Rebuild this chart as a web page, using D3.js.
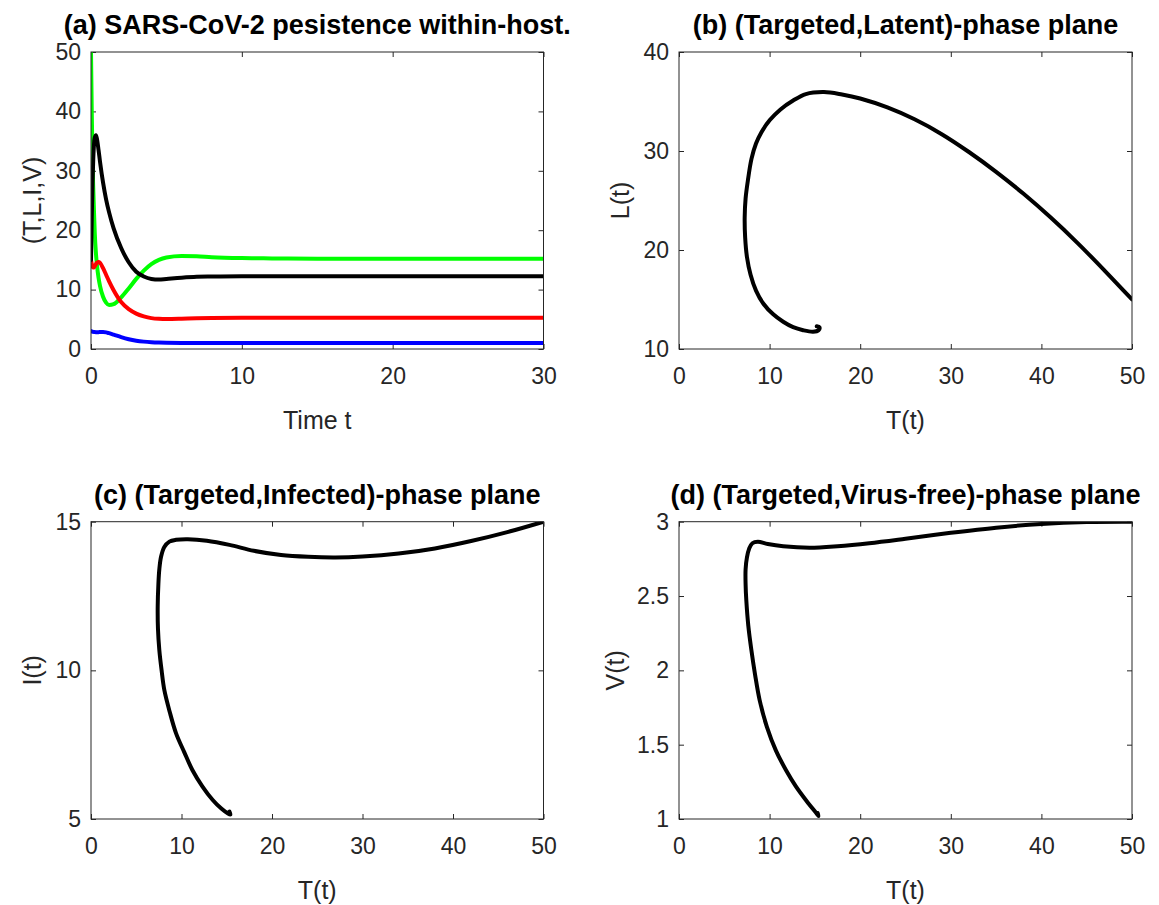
<!DOCTYPE html>
<html><head><meta charset="utf-8">
<script src="https://cdn.jsdelivr.net/npm/d3@7/dist/d3.min.js"></script>
<style>
body{margin:0;background:#fff}
text{font-family:"Liberation Sans",Arial,Helvetica,sans-serif}
</style>
</head><body>
<svg id="fig" width="1159" height="905"></svg>
<script>
// ---------- Data ----------
// Panel (a): time series
const timeT = [0, 0.05, 0.1, 0.15, 0.2, 0.25, 0.33, 0.4, 0.5, 0.6, 0.8, 1.0, 1.2, 1.5, 2, 2.5, 3, 3.5, 4, 4.5, 5, 6, 7, 8, 10, 12, 15, 20, 25, 30];
const seriesT = [50, 40, 32, 27, 23, 19.5, 16, 14, 12, 10.6, 8.8, 7.8, 7.4, 7.55, 8.7, 10.2, 11.8, 13.2, 14.3, 15.0, 15.4, 15.65, 15.6, 15.45, 15.3, 15.25, 15.2, 15.2, 15.2, 15.2];
const seriesL = [15, 22, 28, 32, 34.5, 35.6, 36, 35.3, 33.5, 31.5, 28, 25.2, 23, 20.3, 17, 14.6, 13.0, 12.2, 11.8, 11.7, 11.8, 12.0, 12.15, 12.2, 12.25, 12.25, 12.25, 12.25, 12.25, 12.25];
const seriesI = [15, 14.3, 13.9, 13.7, 13.75, 13.95, 14.3, 14.55, 14.65, 14.5, 13.6, 12.5, 11.4, 9.9, 7.9, 6.7, 5.96, 5.5, 5.2, 5.08, 5.05, 5.1, 5.18, 5.22, 5.25, 5.27, 5.28, 5.28, 5.28, 5.28];
const seriesV = [3.0, 2.95, 2.91, 2.88, 2.86, 2.845, 2.835, 2.835, 2.84, 2.85, 2.86, 2.80, 2.66, 2.42, 2.0, 1.65, 1.4, 1.24, 1.14, 1.08, 1.05, 1.03, 1.03, 1.03, 1.03, 1.03, 1.03, 1.03, 1.03, 1.03];

// Panel (b): (T, L) phase plane path
const phaseB_T = [50, 47, 44, 41, 38, 35, 32, 29, 26, 23, 20, 18, 16, 14, 12.6, 11.2, 10, 9.1, 8.5, 8.0, 7.6, 7.35, 7.25, 7.3, 7.5, 7.9, 8.5, 9.3, 10.4, 11.5, 12.6, 13.7, 14.8, 15.4, 15.5, 15.2];
const phaseB_L = [15, 17.9, 20.7, 23.3, 25.7, 27.9, 29.9, 31.7, 33.2, 34.4, 35.3, 35.7, 35.95, 35.75, 35.1, 34.2, 33.1, 31.9, 30.75, 29.2, 27.0, 25.2, 23.3, 21.3, 19.3, 17.5, 15.9, 14.6, 13.5, 12.75, 12.2, 11.9, 11.75, 11.9, 12.2, 12.3];

// Panel (c): (T, I) phase plane path
const phaseC_T = [50, 46, 42, 38, 34, 30, 27, 24, 21, 18, 15.3, 12.8, 10.7, 9.4, 8.66, 8.1, 7.74, 7.55, 7.45, 7.37, 7.4, 7.55, 7.8, 8.1, 8.7, 9.4, 10.3, 11.2, 12.3, 13.45, 14.4, 15.1, 15.4, 15.3];
const phaseC_I = [15, 14.65, 14.35, 14.1, 13.93, 13.83, 13.8, 13.82, 13.88, 14.02, 14.22, 14.36, 14.41, 14.39, 14.33, 14.15, 13.82, 13.4, 12.93, 12.14, 11.4, 10.68, 10.0, 9.34, 8.6, 7.88, 7.25, 6.65, 6.1, 5.64, 5.35, 5.19, 5.15, 5.25];

// Panel (d): (T, V) phase plane path
const phaseD_T = [50, 45, 40, 35, 30, 25, 21, 17.5, 14.4, 11.5, 9.8, 8.7, 8.1, 7.75, 7.5, 7.35, 7.35, 7.43, 7.65, 7.98, 8.4, 8.9, 9.7, 10.7, 11.8, 12.9, 14.1, 15.15, 15.4, 15.3];
const phaseD_V = [3.0, 2.998, 2.985, 2.96, 2.925, 2.885, 2.855, 2.835, 2.825, 2.835, 2.85, 2.865, 2.855, 2.82, 2.76, 2.68, 2.58, 2.47, 2.30, 2.14, 1.97, 1.80, 1.62, 1.46, 1.33, 1.22, 1.12, 1.04, 1.02, 1.04];

// Tick labels
const ticksA_x = [0, 10, 20, 30];
const ticksA_y = [0, 10, 20, 30, 40, 50];
const ticksT = [0, 10, 20, 30, 40, 50];
const ticksB_y = [10, 20, 30, 40];
const ticksC_y = [5, 10, 15];
const ticksD_y = [1, 1.5, 2, 2.5, 3];

// Titles and labels
const titles = ["(a) SARS-CoV-2 pesistence within-host.", "(b) (Targeted,Latent)-phase plane",
                "(c) (Targeted,Infected)-phase plane", "(d) (Targeted,Virus-free)-phase plane"];
const xLabels = ["Time t", "T(t)", "T(t)", "T(t)"];
const yLabels = ["(T,L,I,V)", "L(t)", "I(t)", "V(t)"];

// ---------- Drawing ----------
const svg = d3.select("#fig");
const AX = "#262626";

function panel(id, box, xDom, yDom, xTicks, yTicks, yFmt, title, xl, yl, ylX, lines) {
  const [x0, x1, y0, y1] = box;
  const x = d3.scaleLinear().domain(xDom).range([x0, x1]);
  const y = d3.scaleLinear().domain(yDom).range([y1, y0]);
  const g = svg.append("g");

  svg.append("clipPath").attr("id", "clip" + id)
    .append("rect").attr("x", x0).attr("y", y0).attr("width", x1 - x0).attr("height", y1 - y0);

  const styleAxis = sel => {
    sel.select(".domain").remove();
    sel.selectAll(".tick line").attr("stroke", AX).attr("stroke-width", 1);
    sel.selectAll(".tick text").attr("fill", AX).style("font-size", "23px")
      .style("font-family", '"Liberation Sans",Arial,sans-serif');
  };

  g.append("g").attr("transform", `translate(0,${y1})`)
    .call(d3.axisBottom(x).tickValues(xTicks).tickSize(-5).tickPadding(19).tickFormat(d3.format("d")))
    .call(styleAxis);
  g.append("g").attr("transform", `translate(0,${y0})`)
    .call(d3.axisTop(x).tickValues(xTicks).tickSize(-5).tickFormat(""))
    .call(styleAxis);
  g.append("g").attr("transform", `translate(${x0},0)`)
    .call(d3.axisLeft(y).tickValues(yTicks).tickSize(-5).tickPadding(10).tickFormat(yFmt))
    .call(styleAxis);
  g.append("g").attr("transform", `translate(${x1},0)`)
    .call(d3.axisRight(y).tickValues(yTicks).tickSize(-5).tickFormat(""))
    .call(styleAxis);

  const lg = g.append("g").attr("clip-path", `url(#clip${id})`);
  lines.forEach(L => {
    const pts = L.xs.map((v, i) => [v, L.ys[i]]);
    const gen = d3.line().x(d => x(d[0])).y(d => y(d[1])).curve(L.curve);
    lg.append("path").attr("d", gen(pts)).attr("fill", "none")
      .attr("stroke", L.color).attr("stroke-width", 4)
      .attr("stroke-linejoin", "round").attr("stroke-linecap", "round");
  });

  g.append("rect").attr("x", x0).attr("y", y0).attr("width", x1 - x0).attr("height", y1 - y0)
    .attr("fill", "none").attr("stroke", AX).attr("stroke-width", 1);

  g.append("text").attr("x", (x0 + x1) / 2).attr("y", y0 - 18).attr("text-anchor", "middle")
    .style("font-size", "27px").style("font-weight", "bold").attr("fill", "#000").text(title);
  g.append("text").attr("x", (x0 + x1) / 2).attr("y", y1 + 80).attr("text-anchor", "middle")
    .style("font-size", "25px").attr("fill", AX).text(xl);
  g.append("text").attr("transform", `translate(${ylX},${(y0 + y1) / 2}) rotate(-90)`)
    .attr("text-anchor", "middle").attr("dy", "0.35em")
    .style("font-size", "25px").attr("fill", AX).text(yl);
}

const monoX = d3.curveMonotoneX;
const cr = d3.curveCatmullRom.alpha(0.5);
const fmtD = d3.format("d");
const fmtG = d => String(d);

panel("a", [91, 543.5, 52, 349], [0, 30], [0, 50], ticksA_x, ticksA_y, fmtD,
  titles[0], xLabels[0], yLabels[0], 32, [
    {xs: timeT, ys: seriesT, color: "#00ff00", curve: monoX},
    {xs: timeT, ys: seriesI, color: "#ff0000", curve: monoX},
    {xs: timeT, ys: seriesV, color: "#0000ff", curve: monoX},
    {xs: timeT, ys: seriesL, color: "#000000", curve: monoX}
  ]);
panel("b", [679, 1132, 52, 349], [0, 50], [10, 40], ticksT, ticksB_y, fmtD,
  titles[1], xLabels[1], yLabels[1], 620, [
    {xs: phaseB_T, ys: phaseB_L, color: "#000000", curve: cr}
  ]);
panel("c", [91, 543.5, 521.7, 819], [0, 50], [5, 15], ticksT, ticksC_y, fmtD,
  titles[2], xLabels[2], yLabels[2], 32, [
    {xs: phaseC_T, ys: phaseC_I, color: "#000000", curve: cr}
  ]);
panel("d", [679, 1132, 521.7, 819], [0, 50], [1, 3], ticksT, ticksD_y, fmtG,
  titles[3], xLabels[3], yLabels[3], 615, [
    {xs: phaseD_T, ys: phaseD_V, color: "#000000", curve: cr}
  ]);
</script>
</body></html>
